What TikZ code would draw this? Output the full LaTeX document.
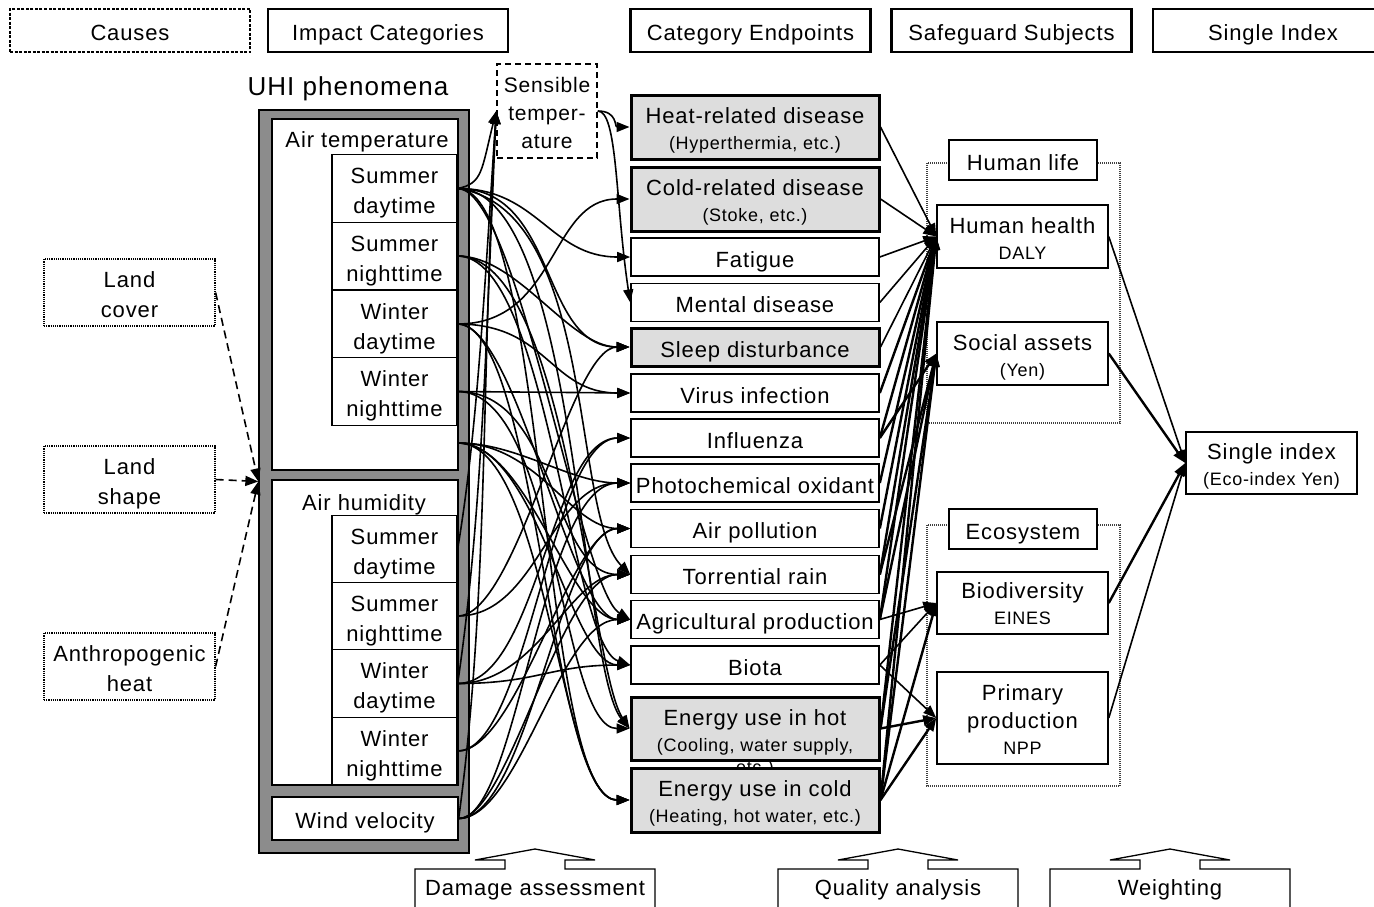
\documentclass[tikz,border=0pt]{standalone}
\usepackage{fontspec}
\setmainfont[LetterSpace=4]{Liberation Sans}
\usetikzlibrary{arrows.meta}
\definecolor{framegray}{RGB}{140,140,140}
\definecolor{boxgray}{RGB}{221,221,221}
\newcommand\fbig{\fontsize{22}{30}\selectfont}
\newcommand\fsm{\fontsize{18}{22}\selectfont}
\newcommand\fhuge{\fontsize{26}{30}\selectfont}
\begin{document}
\begin{tikzpicture}[x=1pt,y=-1pt,
  every node/.style={inner sep=0pt, align=center, font=\fbig},
  one/.style={text height=20pt, text depth=0pt},
  two/.style={text height=50pt, text depth=0pt},
  twos/.style={text height=45pt, text depth=0pt},
  hdr/.style={draw, one, line width=2.4pt, minimum width=240pt, minimum height=43pt},
  hdrdot/.style={draw, one, line width=2.4pt, dash pattern=on 3pt off 1.5pt, minimum width=240pt, minimum height=43pt},
  cause/.style={draw, two, line width=1.2pt, densely dotted, minimum width=171pt, minimum height=67pt},
  sub/.style={draw, two, fill=white, line width=1.3pt, minimum width=125pt, minimum height=67.5pt},
  bigbox/.style={draw, fill=white, line width=1.3pt, minimum width=186pt},
  ep/.style={draw, one, fill=white, line width=1.6pt, minimum width=248pt, minimum height=38pt},
  epg/.style={draw, twos, fill=boxgray, line width=3pt, minimum width=248pt, minimum height=64pt},
  sg/.style={draw, fill=white, line width=1.5pt, minimum width=171pt},
  conn/.style={-{Triangle[length=13pt,width=10pt]}, line width=1.6pt},
  thk/.style={-{Triangle[length=13pt,width=10pt]}, line width=2.4pt},
  dashconn/.style={-{Triangle[length=13pt,width=10pt]}, line width=1.6pt, dash pattern=on 8pt off 5pt},
  grp/.style={draw=black!75, line width=1.2pt, dash pattern=on 1pt off 1pt}
]
\useasboundingbox (0,0) rectangle (1374,906);
\clip (0,0) rectangle (1374,906);

% headers
\node[hdrdot] (hcause) at (130,30.5) {Causes};
\node[hdr] (himpact) at (388,30.5) {Impact Categories};
\node[hdr] (hend) at (750.5,30.5) {Category Endpoints};
\node[hdr] (hsafe) at (1011.5,30.5) {Safeguard Subjects};
\node[hdr] (hsingle) at (1273,30.5) {Single Index};

% causes
\node[cause] (lc) at (129.5,292.5) {Land\\cover};
\node[cause] (ls) at (129.5,479.5) {Land\\shape};
\node[cause] (ah) at (129.5,666.5) {Anthropogenic\\heat};

% UHI
\node[font=\fhuge] (uhititle) at (348,89) {UHI phenomena};
\node[draw, fill=framegray, line width=1.3pt, minimum width=210pt, minimum height=743pt] (uhi) at (364,481.5) {};
\node[bigbox, minimum height=351pt] (airT) at (365,294.5) {};
\node (lblT) at (367,142) {Air temperature};
\node[sub] (t1) at (394.5,188.5) {Summer\\daytime};
\node[sub] (t2) at (394.5,256) {Summer\\nighttime};
\node[sub] (t3) at (394.5,324) {Winter\\daytime};
\node[sub] (t4) at (394.5,391.5) {Winter\\nighttime};
\coordinate (tg) at (458,443);
\node[bigbox, minimum height=305pt] (airH) at (365,632.5) {};
\node (lblH) at (364,505) {Air humidity};
\node[sub] (h1) at (394.5,549) {Summer\\daytime};
\node[sub] (h2) at (394.5,616) {Summer\\nighttime};
\node[sub] (h3) at (394.5,683.5) {Winter\\daytime};
\node[sub] (h4) at (394.5,751) {Winter\\nighttime};
\node[bigbox, one, minimum height=43pt] (wind) at (365,818.5) {Wind velocity};

% sensible temperature
\node[draw, dash pattern=on 6pt off 4pt, line width=1.5pt, minimum width=100pt, minimum height=94pt, text height=74pt, text depth=0pt, font=\fontsize{21}{28}\selectfont] (st) at (547,111) {Sensible\\temper-\\ature};

% endpoints
\node[epg] (heat) at (755,127) {Heat-related disease\\[-4pt]{\fsm (Hyperthermia, etc.)}};
\node[epg] (cold) at (755,199) {Cold-related disease\\[-4pt]{\fsm (Stoke, etc.)}};
\node[ep] (fat) at (755,257) {Fatigue};
\node[ep] (ment) at (755,302.5) {Mental disease};
\node[ep, fill=boxgray, line width=3pt] (sleep) at (755,347) {Sleep disturbance};
\node[ep] (virus) at (755,393) {Virus infection};
\node[ep] (influ) at (755,438) {Influenza};
\node[ep] (photo) at (755,483) {Photochemical oxidant};
\node[ep] (airp) at (755,528.5) {Air pollution};
\node[ep] (torr) at (755,574.5) {Torrential rain};
\node[ep] (agri) at (755,619.5) {Agricultural production};
\node[ep] (biota) at (755,665) {Biota};
\node[epg, minimum height=63pt, text height=46pt] (ehot) at (755,728.5) {Energy use in hot\\[-4pt]{\fsm (Cooling, water supply,}};
\node[anchor=base, font=\fsm] (etc) at (755,773) {etc.)};
\node[epg] (ecold) at (755,800) {Energy use in cold\\[-4pt]{\fsm (Heating, hot water, etc.)}};

% safeguard groups
\draw[grp] (927,163) rectangle (1120,423);
\draw[grp] (927,525) rectangle (1120,786);
\node[sg, one, minimum width=148pt, minimum height=40pt] (hlife) at (1023,160) {Human life};
\node[sg, one, minimum width=148pt, minimum height=40pt] (eco) at (1023,529) {Ecosystem};
\node[sg, twos, text height=46pt, minimum height=63pt] (hh) at (1022.5,236.5) {Human health\\[-4pt]{\fsm DALY}};
\node[sg, twos, text height=46pt, minimum height=63pt] (sa) at (1022.5,353.5) {Social assets\\[-4pt]{\fsm (Yen)}};
\node[sg, twos, text height=43pt, minimum height=62pt] (bd) at (1022.5,603) {Biodiversity\\[-4pt]{\fsm EINES}};
\node[sg, text height=73pt, text depth=0pt, minimum height=92pt] (pp) at (1022.5,718) {Primary\\[-2pt]production\\[-4pt]{\fsm NPP}};
\node[sg, twos, minimum height=62pt] (si) at (1271.5,463) {Single index\\[-4pt]{\fsm (Eco-index Yen)}};

% causes arrows
\draw[dashconn] (lc.east) -- (uhi.west);
\draw[dashconn] (ls.east) -- (uhi.west);
\draw[dashconn] (ah.east) -- (uhi.west);

% to sensible temperature
\draw[conn] (t1.east) .. controls +(25,-5) and +(-15,60) .. (st.west);
\draw[conn] (h1.east) .. controls +(20,-120) and +(-12,180) .. (st.west);
\draw[conn] (h3.east) .. controls +(25,-170) and +(-10,220) .. (st.west);
\draw[conn] (wind.east) .. controls +(30,-220) and +(-15,260) .. (st.west);
\draw[conn] (st.east) .. controls +(20,0) and +(-15,0) .. (heat.west);
\draw[conn] (st.east) .. controls +(20,0) and +(-15,-100) .. (ment.west);

% summer daytime (temperature)
\draw[conn] (t1.east) .. controls +(80,0) and +(-80,0) .. (fat.west);
\draw[conn] (t1.east) .. controls +(100,0) and +(-90,0) .. (sleep.west);
\draw[conn] (t1.east) .. controls +(140,20) and +(-60,-60) .. (torr.west);
\draw[conn] (t1.east) .. controls +(120,0) and +(-50,-60) .. (ehot.west);
\draw[conn] (t1.east) .. controls +(90,0) and +(-90,0) .. (ecold.west);
\draw[conn] (t1.east) .. controls +(60,0) and +(-50,-30) .. (agri.west);
% summer nighttime
\draw[conn] (t2.east) .. controls +(60,0) and +(-60,0) .. (sleep.west);
\draw[conn] (t2.east) .. controls +(90,0) and +(-60,-20) .. (biota.west);
\draw[conn] (t2.east) .. controls +(110,0) and +(-40,-60) .. (ehot.west);
% winter daytime
\draw[conn] (t3.east) .. controls +(100,0) and +(-80,0) .. (cold.west);
\draw[conn] (t3.east) .. controls +(90,0) and +(-80,0) .. (virus.west);
\draw[conn] (t3.east) .. controls +(80,0) and +(-80,0) .. (ecold.west);
\draw[conn] (t3.east) .. controls +(60,0) and +(-60,0) .. (agri.west);
% winter nighttime
\draw[conn] (t4.east) -- (virus.west);
\draw[conn] (t4.east) .. controls +(100,0) and +(-80,0) .. (torr.west);
\draw[conn] (t4.east) .. controls +(100,0) and +(-70,0) .. (ehot.west);
% air temperature general
\draw[conn] (tg) .. controls +(60,0) and +(-60,0) .. (photo.west);
\draw[conn] (tg) .. controls +(80,0) and +(-60,0) .. (airp.west);
\draw[conn] (tg) .. controls +(70,0) and +(-60,0) .. (agri.west);
\draw[conn] (tg) .. controls +(80,0) and +(-60,0) .. (biota.west);
\draw[conn] (tg) .. controls +(90,0) and +(-70,0) .. (ecold.west);
% humidity
\draw[conn] (h2.east) .. controls +(60,0) and +(-60,0) .. (sleep.west);
\draw[conn] (h2.east) .. controls +(80,0) and +(-80,0) .. (photo.west);
\draw[conn] (h3.east) .. controls +(80,0) and +(-80,0) .. (biota.west);
\draw[conn] (h3.east) .. controls +(80,0) and +(-80,0) .. (influ.west);
\draw[conn] (h3.east) .. controls +(80,0) and +(-60,0) .. (torr.west);
\draw[conn] (h4.east) .. controls +(70,0) and +(-80,0) .. (influ.west);
\draw[conn] (h4.east) .. controls +(60,0) and +(-60,0) .. (airp.west);
% wind
\draw[conn] (wind.east) .. controls +(60,0) and +(-90,0) .. (photo.west);
\draw[conn] (wind.east) .. controls +(70,0) and +(-70,0) .. (airp.west);
\draw[conn] (wind.east) .. controls +(50,0) and +(-70,0) .. (torr.west);
\draw[conn] (wind.east) .. controls +(60,0) and +(-70,0) .. (agri.west);

% endpoints -> safeguard subjects
\foreach \n in {heat,cold,fat,ment,sleep}
  \draw[conn] (\n.east) -- (hh.west);
\foreach \n in {virus,influ,photo,airp,torr,agri,ehot,ecold}
  \draw[thk] (\n.east) -- (hh.west);
\foreach \n in {influ,torr,agri,ehot,ecold}
  \draw[thk] (\n.east) -- (sa.west);
\draw[conn] (biota.east) -- (bd.west);
\draw[conn] (agri.east) -- (bd.west);
\draw[thk] (ecold.east) -- (bd.west);
\draw[conn] (biota.east) -- (pp.west);
\draw[thk] (ehot.east) -- (pp.west);
\draw[thk] (ecold.east) -- (pp.west);

% safeguard -> single index
\draw[conn] (hh.east) -- (si.west);
\draw[thk] (sa.east) -- (si.west);
\draw[thk] (bd.east) -- (si.west);
\draw[conn] (pp.east) -- (si.west);

% bottom process arrows
\foreach \c/\l/\r in {535/415/655, 898/778/1018, 1170/1050/1290}
  \draw[line width=1.3pt] (\l,915) -- (\l,869) -- (\c-30,869) -- (\c-30,860) -- (\c-60,860) -- (\c,849) -- (\c+60,860) -- (\c+30,860) -- (\c+30,869) -- (\r,869) -- (\r,915);
\node (da) at (535,890) {Damage assessment};
\node (qa) at (898,890) {Quality analysis};
\node (wt) at (1170,890) {Weighting};
\end{tikzpicture}
\end{document}
